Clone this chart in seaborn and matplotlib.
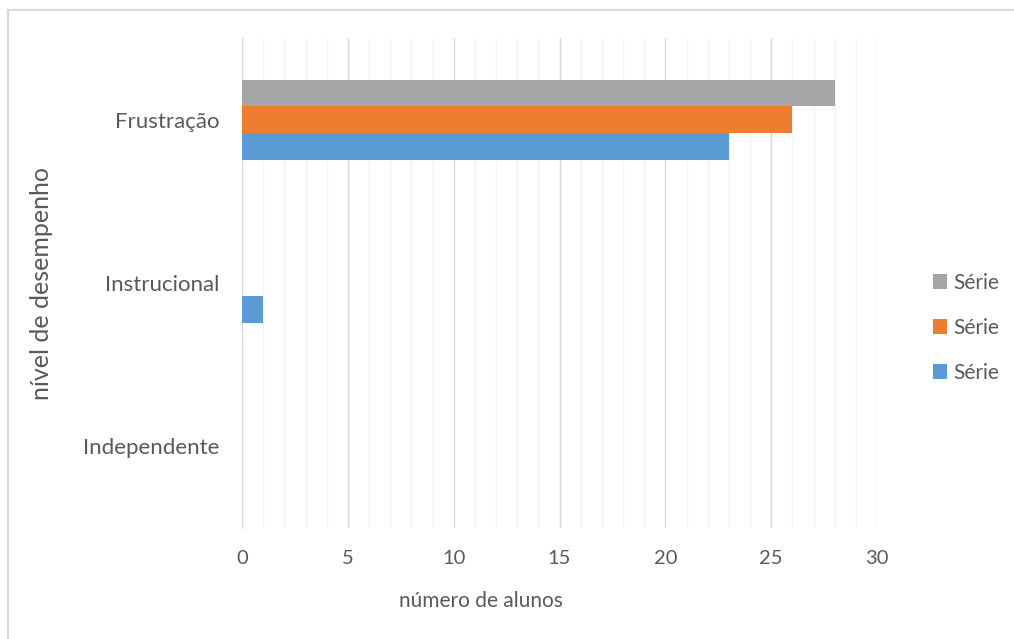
import pandas as pd
import matplotlib
matplotlib.use("Agg")
from matplotlib import pyplot as plt
from matplotlib.patches import Rectangle
import matplotlib.ticker as mtick
import seaborn as sns

# data
niveis = ['Frustração', 'Instrucional', 'Independente']
series = ['Série 3', 'Série 2', 'Série 1']
serie_3 = [28, 0, 0]
serie_2 = [26, 0, 0]
serie_1 = [23, 1, 0]
cores = ['#a5a5a5', '#ed7d31', '#5b9bd5']

df = pd.DataFrame({
    'nivel': niveis * 3,
    'serie': [series[0]] * 3 + [series[1]] * 3 + [series[2]] * 3,
    'alunos': serie_3 + serie_2 + serie_1,
})

sns.set_style('white')
plt.rcParams['font.family'] = ['Lato', 'DejaVu Sans']
texto = '#595959'

fig = plt.figure(figsize=(10.14, 6.39), dpi=100)
ax = fig.add_axes([242 / 1014, 1 - 528 / 639, 635 / 1014, 490 / 639])

sns.barplot(data=df, y='nivel', x='alunos', hue='serie', order=niveis,
            hue_order=series, palette=cores, width=0.49, orient='h',
            saturation=1, linewidth=0, ax=ax, zorder=3)

ax.set_xlim(0, 30)
ax.set_ylim(2.5, -0.5)
ax.xaxis.set_major_locator(mtick.MultipleLocator(5))
ax.xaxis.set_minor_locator(mtick.MultipleLocator(1))
ax.grid(axis='x', which='minor', color='#f2f2f2', linewidth=1, zorder=0)
ax.grid(axis='x', which='major', color='#d9d9d9', linewidth=1, zorder=0)
ax.tick_params(axis='x', length=0, labelsize=14.5, labelcolor=texto, pad=16)
ax.tick_params(axis='y', length=0, labelsize=16, labelcolor=texto, pad=16)
for s in ['top', 'right', 'bottom']:
    ax.spines[s].set_visible(False)
ax.spines['left'].set_color('#d9d9d9')

ax.set_xlabel('número de alunos', fontsize=15, color=texto)
ax.xaxis.set_label_coords((481 - 242) / 635, -63 / 490)
ax.set_ylabel('nível de desempenho', fontsize=18, color=texto, labelpad=22)

handles, _ = ax.get_legend_handles_labels()
ax.legend(handles, ['Série', 'Série', 'Série'], loc='center left',
          bbox_to_anchor=(914 / 1014, 1 - 328 / 639),
          bbox_transform=fig.transFigure, frameon=False, fontsize=15,
          labelcolor=texto, handlelength=0.7, handleheight=0.7,
          handletextpad=0.3, labelspacing=1.2)

# chart border as in the source image
fig.patches.append(Rectangle((8 / 1014, -0.1), 1.2, 1 - 10 / 639 + 0.1,
                             transform=fig.transFigure, fill=False,
                             edgecolor='#d9d9d9', linewidth=1.5))

fig.savefig('out.png', dpi=100)
